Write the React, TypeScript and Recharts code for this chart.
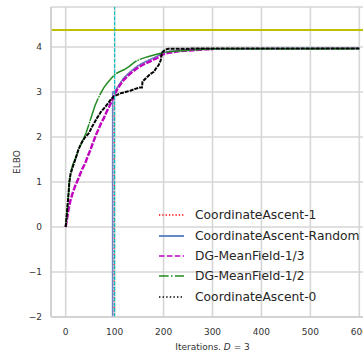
import React from 'react';
import { LineChart, Line, XAxis, YAxis, CartesianGrid, ReferenceLine } from 'recharts';

// ---- data ----
const xTicks = [0, 100, 200, 300, 400, 500, 600];
const yTicks = [-2, -1, 0, 1, 2, 3, 4];
const elboBound = 4.38;
const switchIteration = 100;

// CoordinateAscent-1 (red dotted)
const ca1Iter = [0, 98, 99, 101, 106, 112, 118, 125, 132, 140, 146, 155, 166, 176, 186, 197, 210, 234, 260, 300, 600];
const ca1Elbo = [-60, -60, 3.01, 3.02, 3.11, 3.21, 3.3, 3.38, 3.45, 3.52, 3.57, 3.63, 3.69, 3.74, 3.79, 3.86, 3.9, 3.93, 3.95, 3.96, 3.97];

// CoordinateAscent-Random (blue solid)
const caRandIter = [0, 95, 96, 101, 106, 112, 118, 125, 132, 140, 146, 155, 166, 176, 186, 197, 210, 234, 260, 300, 600];
const caRandElbo = [-60, -60, 3.0, 3.02, 3.11, 3.21, 3.3, 3.38, 3.45, 3.52, 3.57, 3.63, 3.69, 3.74, 3.79, 3.86, 3.9, 3.93, 3.95, 3.96, 3.97];

// DG-MeanField-1/3 (magenta dashed)
const dg13Iter = [0, 3, 6, 10, 15, 20, 26, 33, 40, 45, 50, 56, 62, 67, 72, 78, 84, 90, 96, 101, 106, 112, 118, 125, 132, 140, 146, 155, 166, 176, 186, 197, 210, 234, 260, 285, 300];
const dg13Elbo = [0, 0.2, 0.4, 0.6, 0.78, 0.93, 1.08, 1.27, 1.42, 1.57, 1.7, 1.88, 2.05, 2.17, 2.3, 2.42, 2.57, 2.7, 2.85, 2.97, 3.07, 3.17, 3.26, 3.34, 3.41, 3.48, 3.53, 3.59, 3.65, 3.7, 3.75, 3.83, 3.87, 3.91, 3.93, 3.95, 3.95];

// DG-MeanField-1/2 (green dash-dot)
const dg12Iter = [0, 2, 4, 6, 8, 11, 15, 20, 25, 30, 36, 42, 48, 54, 60, 66, 72, 78, 85, 93, 101, 110, 120, 130, 140, 150, 160, 173, 186, 200, 215, 240, 270, 300, 600];
const dg12Elbo = [0, 0.25, 0.5, 0.8, 1.05, 1.25, 1.4, 1.52, 1.68, 1.8, 1.95, 2.1, 2.3, 2.5, 2.7, 2.85, 2.98, 3.1, 3.2, 3.3, 3.4, 3.45, 3.5, 3.57, 3.66, 3.72, 3.76, 3.8, 3.84, 3.88, 3.9, 3.92, 3.94, 3.96, 3.96];

// CoordinateAscent-0 (black dotted)
const ca0Iter = [0, 2, 4, 6, 7.5, 10, 14, 18, 22, 26, 30, 35, 40, 47, 55, 64, 72, 80, 86, 92, 98, 104, 112, 122, 132, 142, 152, 156, 157, 166, 173, 180, 185, 190, 194, 197, 203, 210, 300, 600];
const ca0Elbo = [0, 0.25, 0.5, 0.75, 1.0, 1.18, 1.32, 1.45, 1.58, 1.72, 1.82, 1.92, 2.0, 2.08, 2.25, 2.42, 2.56, 2.66, 2.74, 2.83, 2.9, 2.93, 2.97, 3.0, 3.03, 3.07, 3.1, 3.1, 3.23, 3.33, 3.4, 3.45, 3.53, 3.6, 3.7, 3.88, 3.94, 3.96, 3.97, 3.97];

const toPoints = (xs: number[], ys: number[]) => xs.map((x, i) => ({ x, y: ys[i] }));

const series = [
  { name: 'CoordinateAscent-1', data: toPoints(ca1Iter, ca1Elbo), color: '#ff0000', width: 1.3, dash: '1.3 2', legendDash: '1.3 2' },
  { name: 'CoordinateAscent-Random', data: toPoints(caRandIter, caRandElbo), color: '#6688c4', width: 1.6, dash: undefined, legendDash: undefined },
  { name: 'DG-MeanField-1/3', data: toPoints(dg13Iter, dg13Elbo), color: '#bf00bf', width: 2.4, dash: '6 1.5', legendDash: '5.5 2.4' },
  { name: 'DG-MeanField-1/2', data: toPoints(dg12Iter, dg12Elbo), color: '#228b22', width: 1.5, dash: '24 1 1.5 1', legendDash: '9.6 2.4 1.5 2.4' },
  { name: 'CoordinateAscent-0', data: toPoints(ca0Iter, ca0Elbo), color: '#000000', width: 2, dash: '4 1', legendDash: '1.4 2.2' },
];

const FONT = '"DejaVu Sans", sans-serif';
const TEXT = '#333333';

const fmtY = (v: number) => (v < 0 ? '\u2212' + Math.abs(v) : String(v));

const YLabel = (props: any) => {
  const vb = props.viewBox || {};
  const cx = (vb.x ?? 0) + 17;
  const cy = (vb.y ?? 0) + (vb.height ?? 0) / 2;
  return (
    <text x={cx} y={cy} transform={`rotate(-90, ${cx}, ${cy})`} textAnchor="middle" dominantBaseline="central"
      fontFamily={FONT} fontSize={9} fill={TEXT}>ELBO</text>
  );
};

const XLabel = (props: any) => {
  const vb = props.viewBox || {};
  const cx = (vb.x ?? 0) + (vb.width ?? 0) / 2;
  const y = (vb.y ?? 0) + 33;
  return (
    <text x={cx} y={y} textAnchor="middle" fontFamily={FONT} fontSize={9} fill={TEXT}>
      Iterations. <tspan fontStyle="italic">D</tspan> = 3
    </text>
  );
};

export default function App() {
  return (
    <div style={{ position: 'absolute', left: 0, top: 0, width: 363, height: 353, overflow: 'hidden', background: '#fff' }}>
      <LineChart width={374} height={353} margin={{ top: 7, right: 0, bottom: 0, left: 0 }}>
        <CartesianGrid stroke="#d6d6d6" strokeWidth={1.6} />
        <XAxis
          type="number"
          dataKey="x"
          domain={[-30, 630]}
          ticks={xTicks}
          allowDataOverflow
          tickLine={false}
          tickMargin={6}
          height={36}
          axisLine={{ stroke: '#cfcfcf', strokeWidth: 1.6 }}
          tick={{ fontFamily: FONT, fontSize: 9, fill: TEXT }}
          label={(p: any) => <XLabel {...p} />}
        />
        <YAxis
          type="number"
          dataKey="y"
          domain={[-2, 4.89]}
          ticks={yTicks}
          allowDataOverflow
          tickLine={false}
          tickMargin={3}
          width={51}
          tickFormatter={fmtY}
          axisLine={{ stroke: '#cfcfcf', strokeWidth: 1.6 }}
          tick={{ fontFamily: FONT, fontSize: 9, fill: TEXT }}
          label={(p: any) => <YLabel {...p} />}
        />
        {series.map((s) => (
          <Line
            key={s.name}
            name={s.name}
            data={s.data}
            dataKey="y"
            type="linear"
            stroke={s.color}
            strokeWidth={s.width}
            strokeDasharray={s.dash}
            dot={false}
            activeDot={false}
            isAnimationActive={false}
          />
        ))}
        <ReferenceLine y={elboBound} stroke="#bfbf00" strokeWidth={2} />
        <ReferenceLine x={switchIteration} stroke="#00bfbf" strokeWidth={1.2} strokeDasharray="3.7 1.6" />
      </LineChart>
      <div style={{ position: 'absolute', left: 158, top: 205, fontFamily: FONT, fontSize: 12.3, color: '#262626' }}>
        {series.map((s) => (
          <div key={s.name} style={{ display: 'flex', alignItems: 'center', height: 20.4, whiteSpace: 'nowrap' }}>
            <svg width={27} height={10} style={{ marginRight: 10 }}>
              <line x1={1} y1={5} x2={26} y2={5} stroke={s.color} strokeWidth={s.name === 'CoordinateAscent-Random' ? 2 : 1.5}
                strokeDasharray={s.legendDash} />
            </svg>
            <span>{s.name}</span>
          </div>
        ))}
      </div>
    </div>
  );
}
